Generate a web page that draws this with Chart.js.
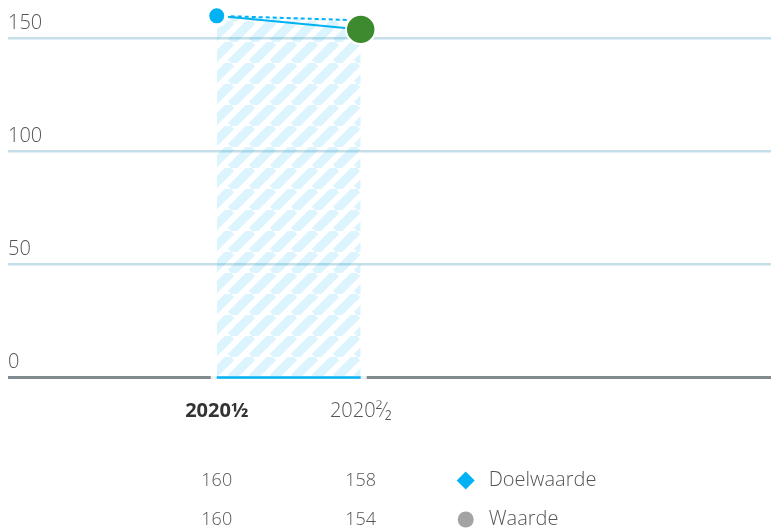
<!DOCTYPE html>
<html>
<head>
<meta charset="utf-8">
<script src="https://cdn.jsdelivr.net/npm/chart.js@4"></script>
<style>
  body { margin: 0; background: #fff; }
</style>
</head>
<body>
<canvas id="chart" width="771" height="530"></canvas>
<script>
// data
const categories = ["2020½", "2020²⁄₂"];
const doelwaarde = [160, 158];
const waarde     = [160, 154];
const yTicks     = [0, 50, 100, 150];
const seriesNames = ["Doelwaarde", "Waarde"];

// colours
const BLUE  = "#00b2f3";
const GREEN = "#3d8b2f";
const GREY  = "#a3a3a3";
const TEXT  = "#555";

Chart.defaults.font.family = "'Open Sans', 'Noto Sans', sans-serif";

// diagonal hatch for the area under the target line
function makeHatch() {
  const s = 21;
  const c = document.createElement("canvas");
  c.width = c.height = s;
  const g = c.getContext("2d");
  g.strokeStyle = "rgba(0,176,240,0.14)";
  g.lineWidth = 9;
  for (const k of [-1, 0, 1]) {
    g.beginPath();
    g.moveTo(k * s, s);
    g.lineTo(k * s + s, 0);
    g.stroke();
  }
  return g.createPattern(c, "repeat");
}

// blue base line under the current period
const baseLine = {
  id: "baseLine",
  afterDatasetsDraw(chart) {
    const { ctx, scales: { x, y } } = chart;
    const y0 = y.getPixelForValue(0);
    const x0 = x.getPixelForValue(0), x1 = x.getPixelForValue(categories.length - 1);
    ctx.save();
    ctx.lineWidth = 3;
    ctx.strokeStyle = "#eef1f1";
    ctx.beginPath(); ctx.moveTo(x0 - 6, y0); ctx.lineTo(x1 + 6, y0); ctx.stroke();
    ctx.strokeStyle = BLUE;
    ctx.lineWidth = 2.5;
    ctx.beginPath(); ctx.moveTo(x0, y0); ctx.lineTo(x1, y0); ctx.stroke();
    ctx.restore();
  }
};

// value table + legend below the axis
const valueTable = {
  id: "valueTable",
  afterDraw(chart) {
    const { ctx, chartArea, scales: { x } } = chart;
    const rows = [doelwaarde, waarde];
    const rowY = [chartArea.bottom + 103, chartArea.bottom + 142];
    const legX = x.getPixelForValue(categories.length - 1) + 105;
    ctx.save();
    ctx.textBaseline = "middle";
    rows.forEach((vals, r) => {
      ctx.font = "300 18px 'Open Sans', sans-serif";
      ctx.textAlign = "center";
      ctx.fillStyle = TEXT;
      vals.forEach((v, i) => ctx.fillText(String(v), x.getPixelForValue(i), rowY[r]));
      // marker
      if (r === 0) {
        ctx.fillStyle = BLUE;
        ctx.beginPath();
        ctx.moveTo(legX, rowY[r] - 9);
        ctx.lineTo(legX + 9, rowY[r]);
        ctx.lineTo(legX, rowY[r] + 9);
        ctx.lineTo(legX - 9, rowY[r]);
        ctx.closePath(); ctx.fill();
      } else {
        ctx.fillStyle = GREY;
        ctx.beginPath(); ctx.arc(legX, rowY[r], 8, 0, Math.PI * 2); ctx.fill();
      }
      ctx.fillStyle = TEXT;
      ctx.textAlign = "left";
      ctx.font = "300 20px 'Open Sans', sans-serif";
      ctx.fillText(seriesNames[r], legX + 23, rowY[r]);
    });
    ctx.restore();
  }
};

const ctx = document.getElementById("chart").getContext("2d");
new Chart(ctx, {
  type: "line",
  data: {
    datasets: [
      {
        label: seriesNames[0],
        data: doelwaarde.map((v, i) => ({ x: i, y: v })),
        borderColor: BLUE,
        borderWidth: 2,
        borderDash: [4, 3],
        pointRadius: 0,
        fill: "origin",
        backgroundColor: makeHatch(),
        order: 2
      },
      {
        label: seriesNames[1],
        data: waarde.map((v, i) => ({ x: i, y: v })),
        borderColor: BLUE,
        borderWidth: 2,
        fill: false,
        pointRadius: [9.5, 14.7],
        pointBorderWidth: [4, 2],
        pointBackgroundColor: [BLUE, GREEN],
        pointBorderColor: "#fff",
        order: 1
      }
    ]
  },
  options: {
    responsive: false,
    animation: false,
    layout: { autoPadding: false, padding: { left: 8, right: 0, top: 0, bottom: 84.5 } },
    plugins: { legend: { display: false }, tooltip: { enabled: false } },
    scales: {
      x: {
        type: "linear",
        min: -1.45,
        max: 3.85,
        afterBuildTicks: axis => { axis.ticks = categories.map((_, i) => ({ value: i })); },
        afterFit: axis => { axis.paddingLeft = 0; axis.paddingRight = 0; },
        grid: { display: false, drawTicks: false },
        border: { display: false },
        ticks: {
          padding: 22,
          color: ctx => ctx.index === 0 ? "#333" : TEXT,
          font: ctx => ({ size: 20, weight: ctx.index === 0 ? "bold" : "300" }),
          callback: v => categories[v]
        }
      },
      y: {
        min: 0,
        max: 167,
        afterBuildTicks: axis => { axis.ticks = yTicks.map(v => ({ value: v })); },
        afterFit: axis => { axis.width = 0; axis.paddingTop = 0; axis.paddingBottom = 0; },
        grid: {
          drawTicks: false,
          color: c => c.tick.value === 0 ? "#7f8b8e" : "#c4dfe9",
          lineWidth: c => c.tick.value === 0 ? 3 : 2.5
        },
        border: { display: false },
        ticks: {
          mirror: true,
          padding: 0,
          labelOffset: -15,
          color: TEXT,
          font: { size: 20, weight: "300" }
        }
      }
    }
  },
  plugins: [baseLine, valueTable]
});
</script>
</body>
</html>
